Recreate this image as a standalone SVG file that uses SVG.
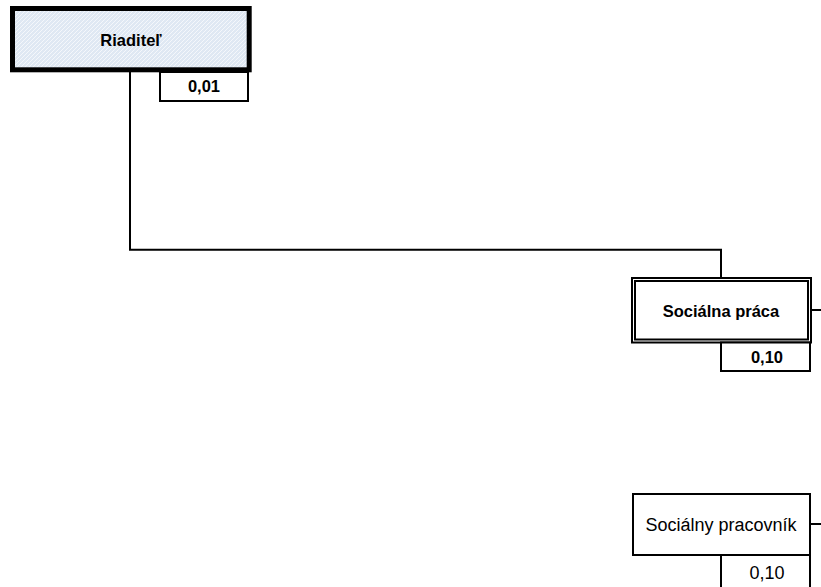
<svg xmlns="http://www.w3.org/2000/svg" width="821" height="587" viewBox="0 0 821 587">
<style>
.ln{fill:none;stroke:#000;stroke-width:2}
.bx{fill:#fff;stroke:#000;stroke-width:2}
.t{font-family:"Liberation Sans",Arial,sans-serif;font-size:18px;fill:#000;text-anchor:middle}
.b{font-weight:bold;font-size:16.5px}
</style>
<defs>
<pattern id="hatch" width="4" height="4" patternUnits="userSpaceOnUse">
<rect width="4" height="4" fill="#dfe8f3"/>
<path d="M-1,1 L1,-1 M0,4 L4,0 M3,5 L5,3" stroke="#f4f7fb" stroke-width="1"/>
</pattern>
</defs>
<g id="connectors">
<polyline class="ln" points="130,72 130,249.7 721,249.7 721,277"/>
<line class="ln" x1="812" y1="310" x2="821" y2="310"/>
<line class="ln" x1="811" y1="524" x2="821" y2="524"/>
</g>
<g id="riaditel">
<rect x="12.5" y="8.5" width="236.7" height="61.3" fill="url(#hatch)" stroke="#000" stroke-width="5"/>
<text class="t b" x="131" y="46">Riaditeľ</text>
<rect class="bx" x="160" y="72" width="88" height="29"/>
<text class="t b" x="204" y="92">0,01</text>
</g>
<g id="socialna-praca">
<rect x="632" y="278" width="179" height="64.5" fill="#fff" stroke="#000" stroke-width="2"/>
<rect x="635" y="281" width="173" height="58.5" fill="none" stroke="#000" stroke-width="2"/>
<text class="t b" x="721" y="317">Sociálna práca</text>
<rect class="bx" x="721" y="342.5" width="89" height="28.5"/>
<text class="t b" x="767" y="363">0,10</text>
</g>
<g id="socialny-pracovnik">
<rect class="bx" x="633" y="494" width="177" height="61"/>
<text class="t" x="721" y="531">Sociálny pracovník</text>
<rect class="bx" x="721" y="555" width="89" height="40"/>
<text class="t" x="767" y="579">0,10</text>
</g>
</svg>
